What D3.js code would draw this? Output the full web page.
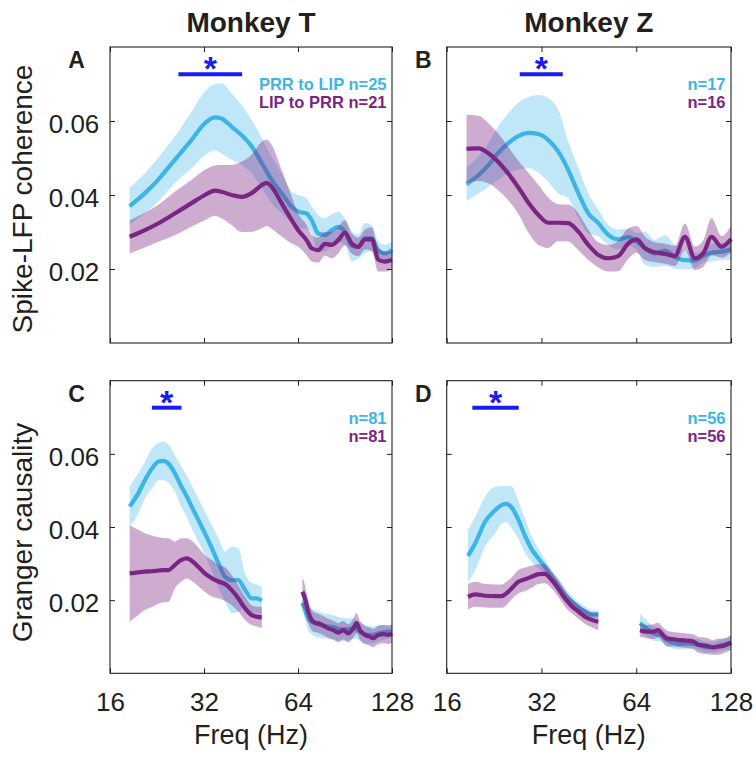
<!DOCTYPE html>
<html><head><meta charset="utf-8">
<script src="https://cdn.jsdelivr.net/npm/d3@7"></script>
<style>
body{margin:0;background:#ffffff}
svg{display:block}
text{font-family:"Liberation Sans",Arial,Helvetica,sans-serif;fill:#231f20}
</style>
</head><body>
<svg id="chart" width="756" height="759"></svg>
<script>
// ---------- DATA ----------
const monkeys = ["Monkey T", "Monkey Z"];
const rowLabels = ["Spike-LFP coherence", "Granger causality"];
const xLabel = "Freq (Hz)";
const freqTicks = [16, 32, 64, 128];
const valueTicks = [0.02, 0.04, 0.06];
const freqDomain = [16, 128];
const valueDomain = [0, 0.08];
const seriesNames = ["PRR to LIP", "LIP to PRR"];

// Panel A (Monkey T, coherence)
const freqA = [18.5,20.7,22.8,25.8,29.2,32.2,34.7,36.4,39.2,42.2,45.5,49.0,50.8,52.7,56.7,61.1,64.1,68.2,70.8,74.3,78.1,82.0,86.1,90.5,95.1,99.8,104.9,110.2,115.7,121.5,128];
const prrLipA = [0.0370,0.0405,0.0441,0.0495,0.0549,0.0594,0.0610,0.0607,0.0585,0.0562,0.0531,0.0486,0.0463,0.0441,0.0405,0.0368,0.0355,0.0350,0.0332,0.0296,0.0292,0.0305,0.0314,0.0301,0.0262,0.0260,0.0283,0.0283,0.0251,0.0242,0.0251];
const prrLipSemA = [0.0050,0.0054,0.0059,0.0063,0.0077,0.0086,0.0090,0.0095,0.0090,0.0081,0.0072,0.0068,0.0065,0.0063,0.0054,0.0041,0.0045,0.0041,0.0036,0.0050,0.0045,0.0043,0.0041,0.0036,0.0041,0.0032,0.0041,0.0036,0.0023,0.0023,0.0023];
const lipPrrA = [0.0287,0.0305,0.0323,0.0350,0.0378,0.0400,0.0412,0.0409,0.0400,0.0395,0.0405,0.0427,0.0433,0.0422,0.0378,0.0332,0.0305,0.0278,0.0256,0.0251,0.0268,0.0265,0.0278,0.0298,0.0269,0.0260,0.0280,0.0281,0.0225,0.0220,0.0224];
const lipPrrSemA = [0.0045,0.0047,0.0050,0.0059,0.0063,0.0068,0.0068,0.0072,0.0081,0.0095,0.0104,0.0117,0.0117,0.0113,0.0090,0.0063,0.0045,0.0041,0.0036,0.0034,0.0032,0.0036,0.0036,0.0034,0.0027,0.0025,0.0027,0.0032,0.0032,0.0027,0.0023];

// Panel B (Monkey Z, coherence)
const freqB = [18.5,20.2,21.7,23.3,25.1,27.0,29.1,31.3,33.6,36.2,38.9,41.9,45.1,48.5,52.2,56.1,60.4,64.2,68.2,73.4,79.0,84.9,91.4,98.3,104.5,111.0,119.5,128];
const prrLipB = [0.0429,0.0454,0.0481,0.0513,0.0540,0.0559,0.0568,0.0565,0.0549,0.0517,0.0468,0.0405,0.0350,0.0324,0.0292,0.0280,0.0286,0.0274,0.0256,0.0242,0.0250,0.0233,0.0224,0.0223,0.0235,0.0244,0.0247,0.0253];
const prrLipSemB = [0.0045,0.0050,0.0059,0.0072,0.0081,0.0090,0.0096,0.0105,0.0113,0.0113,0.0077,0.0068,0.0054,0.0036,0.0027,0.0027,0.0023,0.0023,0.0045,0.0036,0.0041,0.0032,0.0025,0.0020,0.0018,0.0024,0.0023,0.0027];
const lipPrrB = [0.0525,0.0526,0.0513,0.0490,0.0458,0.0421,0.0379,0.0346,0.0325,0.0325,0.0324,0.0301,0.0265,0.0238,0.0229,0.0235,0.0269,0.0280,0.0256,0.0245,0.0241,0.0235,0.0287,0.0229,0.0242,0.0287,0.0260,0.0281];
const lipPrrSemB = [0.0092,0.0088,0.0081,0.0077,0.0072,0.0072,0.0081,0.0081,0.0068,0.0050,0.0050,0.0050,0.0041,0.0034,0.0036,0.0041,0.0041,0.0036,0.0032,0.0027,0.0027,0.0027,0.0036,0.0032,0.0036,0.0050,0.0029,0.0036];

// Panel C (Monkey T, Granger) - low and high bands
const freqC1 = [18.5,19.7,20.7,21.8,22.9,23.7,24.6,25.8,27.1,28.2,29.2,30.7,32.2,33.9,35.6,37.4,39.2,41.2,43.3,45.5,47.2,49.0];
const prrLipC1 = [0.0456,0.0492,0.0528,0.0560,0.0579,0.0581,0.0574,0.0547,0.0510,0.0483,0.0456,0.0419,0.0383,0.0342,0.0301,0.0264,0.0255,0.0255,0.0228,0.0205,0.0205,0.0199];
const prrLipSemC1 = [0.0055,0.0055,0.0050,0.0055,0.0051,0.0053,0.0052,0.0050,0.0055,0.0057,0.0059,0.0059,0.0059,0.0064,0.0068,0.0068,0.0091,0.0087,0.0046,0.0041,0.0038,0.0038];
const lipPrrC1 = [0.0273,0.0276,0.0278,0.0279,0.0281,0.0282,0.0282,0.0296,0.0310,0.0314,0.0308,0.0291,0.0273,0.0260,0.0251,0.0244,0.0228,0.0205,0.0178,0.0159,0.0155,0.0153];
const lipPrrSemC1 = [0.0132,0.0117,0.0105,0.0098,0.0091,0.0088,0.0087,0.0064,0.0059,0.0055,0.0055,0.0053,0.0050,0.0050,0.0046,0.0046,0.0041,0.0036,0.0032,0.0027,0.0027,0.0029];
const freqC2 = [66.1,67.4,69.0,70.8,72.5,75.3,78.1,80.0,83.1,86.2,89.4,92.7,96.2,98.6,101.0,104.9,108.8,111.5,115.7,120.1,124.7,128];
const prrLipC2 = [0.0193,0.0173,0.0150,0.0141,0.0137,0.0132,0.0129,0.0128,0.0126,0.0122,0.0120,0.0120,0.0123,0.0120,0.0114,0.0107,0.0105,0.0105,0.0109,0.0112,0.0114,0.0114];
const prrLipSemC2 = [0.0018,0.0025,0.0032,0.0034,0.0036,0.0035,0.0034,0.0034,0.0033,0.0032,0.0032,0.0030,0.0028,0.0026,0.0026,0.0025,0.0024,0.0023,0.0022,0.0020,0.0018,0.0016];
const lipPrrC2 = [0.0223,0.0205,0.0169,0.0146,0.0139,0.0135,0.0128,0.0123,0.0118,0.0111,0.0118,0.0109,0.0123,0.0137,0.0118,0.0105,0.0100,0.0096,0.0105,0.0107,0.0105,0.0109];
const lipPrrSemC2 = [0.0040,0.0035,0.0030,0.0028,0.0027,0.0026,0.0026,0.0026,0.0026,0.0026,0.0025,0.0025,0.0026,0.0028,0.0026,0.0025,0.0025,0.0025,0.0025,0.0025,0.0025,0.0025];

// Panel D (Monkey Z, Granger)
const freqD1 = [18.7,19.7,21.2,22.8,23.9,24.8,25.7,27.0,28.4,29.8,31.3,32.8,34.5,36.2,38.0,39.9,41.9,44.0,46.2,48.5];
const prrLipD1 = [0.0321,0.0355,0.0415,0.0446,0.0460,0.0463,0.0454,0.0421,0.0375,0.0339,0.0314,0.0291,0.0264,0.0239,0.0214,0.0196,0.0180,0.0169,0.0161,0.0161];
const prrLipSemD1 = [0.0071,0.0073,0.0068,0.0064,0.0052,0.0049,0.0057,0.0053,0.0046,0.0035,0.0027,0.0021,0.0018,0.0020,0.0020,0.0016,0.0015,0.0014,0.0011,0.0011];
const lipPrrD1 = [0.0209,0.0216,0.0212,0.0211,0.0211,0.0219,0.0232,0.0250,0.0257,0.0264,0.0271,0.0272,0.0255,0.0232,0.0205,0.0184,0.0169,0.0155,0.0146,0.0141];
const lipPrrSemD1 = [0.0035,0.0034,0.0032,0.0032,0.0032,0.0032,0.0030,0.0032,0.0032,0.0030,0.0027,0.0026,0.0023,0.0023,0.0023,0.0020,0.0020,0.0020,0.0020,0.0023];
const freqD2 = [65.8,69.0,72.5,75.2,77.0,79.9,83.9,88.1,92.5,97.1,100.7,107.0,112.4,116.5,120.9,128];
const prrLipD2 = [0.0137,0.0123,0.0109,0.0106,0.0104,0.0091,0.0084,0.0080,0.0082,0.0080,0.0079,0.0071,0.0071,0.0074,0.0078,0.0084];
const prrLipSemD2 = [0.0025,0.0022,0.0020,0.0018,0.0018,0.0016,0.0016,0.0015,0.0015,0.0015,0.0015,0.0015,0.0015,0.0015,0.0016,0.0018];
const lipPrrD2 = [0.0118,0.0114,0.0114,0.0118,0.0109,0.0096,0.0093,0.0091,0.0089,0.0087,0.0078,0.0075,0.0071,0.0073,0.0075,0.0084];
const lipPrrSemD2 = [0.0018,0.0018,0.0020,0.0020,0.0020,0.0022,0.0020,0.0020,0.0020,0.0020,0.0022,0.0022,0.0020,0.0022,0.0020,0.0020];

// Significance ranges (Hz)
const sigA = [26.5, 42.4];
const sigB = [27.3, 37.4];
const sigC = [21.8, 27.1];
const sigD = [19.3, 27.1];

// Cell counts
const nPrrLip = [25, 17, 81, 56];
const nLipPrr = [21, 16, 81, 56];
const panelLetters = ["A", "B", "C", "D"];

// ---------- DRAW ----------
const svg = d3.select("#chart");
const CYAN = "#3cb5e6", PURPLE = "#7b2583", SIG = "#1a1af2", INK = "#231f20";

const cols = [{x0: 110, x1: 392, letterX: 68.3}, {x0: 446.7, x1: 731, letterX: 415}];
const rows = [{y0: 47, y1: 343}, {y0: 380.7, y1: 673.3}];

const panels = [
  {col: 0, row: 0, segs: [[freqA, prrLipA, prrLipSemA, lipPrrA, lipPrrSemA]], sig: sigA},
  {col: 1, row: 0, segs: [[freqB, prrLipB, prrLipSemB, lipPrrB, lipPrrSemB]], sig: sigB},
  {col: 0, row: 1, segs: [[freqC1, prrLipC1, prrLipSemC1, lipPrrC1, lipPrrSemC1],
                          [freqC2, prrLipC2, prrLipSemC2, lipPrrC2, lipPrrSemC2]], sig: sigC},
  {col: 1, row: 1, segs: [[freqD1, prrLipD1, prrLipSemD1, lipPrrD1, lipPrrSemD1],
                          [freqD2, prrLipD2, prrLipSemD2, lipPrrD2, lipPrrSemD2]], sig: sigD}
];

panels.forEach((p, pi) => {
  const c = cols[p.col], r = rows[p.row];
  const x = d3.scaleLog().base(2).domain(freqDomain).range([c.x0, c.x1]);
  const y = d3.scaleLinear().domain(valueDomain).range([r.y1, r.y0]);
  const g = svg.append("g");

  const series = [
    {color: CYAN, op: 0.33, mi: 1, si: 2},
    {color: PURPLE, op: 0.38, mi: 3, si: 4}
  ];
  series.forEach(s => {
    p.segs.forEach(seg => {
      const pts = seg[0].map((f, i) => ({f, m: seg[s.mi][i], s: seg[s.si][i]}));
      const area = d3.area().x(d => x(d.f)).y0(d => y(d.m - d.s)).y1(d => y(d.m + d.s)).curve(d3.curveMonotoneX);
      g.append("path").datum(pts).attr("d", area).attr("fill", s.color).attr("fill-opacity", s.op).attr("stroke", "none");
    });
    p.segs.forEach(seg => {
      const pts = seg[0].map((f, i) => ({f, m: seg[s.mi][i]}));
      const line = d3.line().x(d => x(d.f)).y(d => y(d.m)).curve(d3.curveMonotoneX);
      g.append("path").datum(pts).attr("d", line).attr("fill", "none")
        .attr("stroke", s.color).attr("stroke-width", 4.2).attr("stroke-linejoin", "round");
    });
  });

  // axes (inward ticks on all four sides)
  const left = d3.axisLeft(y).tickValues(valueTicks).tickSize(-5).tickSizeOuter(0).tickPadding(10.7)
    .tickFormat(p.col === 0 ? d3.format(".2f") : () => "");
  const right = d3.axisRight(y).tickValues(valueTicks).tickSize(-5).tickSizeOuter(0).tickFormat(() => "");
  const top = d3.axisTop(x).tickValues(freqTicks).tickSize(-5).tickSizeOuter(0).tickFormat(() => "");
  const bottom = d3.axisBottom(x).tickValues(freqTicks).tickSize(-5).tickSizeOuter(0).tickPadding(19)
    .tickFormat(p.row === 1 ? d => String(d) : () => "");
  const axG = [
    g.append("g").attr("transform", `translate(${c.x0},0)`).call(left),
    g.append("g").attr("transform", `translate(${c.x1},0)`).call(right),
    g.append("g").attr("transform", `translate(0,${r.y0})`).call(top),
    g.append("g").attr("transform", `translate(0,${r.y1})`).call(bottom)
  ];
  axG.forEach(a => {
    a.select(".domain").remove();
    a.selectAll(".tick line").attr("stroke", INK).attr("stroke-width", 1);
    a.selectAll(".tick text").attr("font-size", 26).attr("fill", INK)
      .attr("font-family", '"Liberation Sans",Arial,Helvetica,sans-serif');
  });
  axG[0].selectAll(".tick text").attr("dy", "0.45em");
  g.append("rect").attr("x", c.x0).attr("y", r.y0).attr("width", c.x1 - c.x0).attr("height", r.y1 - r.y0)
    .attr("fill", "none").attr("stroke", INK).attr("stroke-width", 1.1);

  // significance bar + asterisk
  const sy = r.y0 + (p.row === 0 ? 27.3 : 27);
  g.append("line").attr("x1", x(p.sig[0])).attr("x2", x(p.sig[1])).attr("y1", sy).attr("y2", sy)
    .attr("stroke", SIG).attr("stroke-width", 4);
  g.append("text").attr("x", (x(p.sig[0]) + x(p.sig[1])) / 2).attr("y", sy + 6)
    .attr("text-anchor", "middle").attr("font-size", 34).attr("font-weight", "bold")
    .style("fill", SIG).text("*");

  // legend / counts
  const lx = c.x1 - 5.5;
  const t1 = pi === 0 ? `${seriesNames[0]} n=${nPrrLip[pi]}` : `n=${nPrrLip[pi]}`;
  const t2 = pi === 0 ? `${seriesNames[1]} n=${nLipPrr[pi]}` : `n=${nLipPrr[pi]}`;
  g.append("text").attr("x", lx).attr("y", r.y0 + 43).attr("text-anchor", "end")
    .attr("font-size", 16.5).attr("font-weight", "bold").style("fill", CYAN).text(t1);
  g.append("text").attr("x", lx).attr("y", r.y0 + 61.3).attr("text-anchor", "end")
    .attr("font-size", 16.5).attr("font-weight", "bold").style("fill", PURPLE).text(t2);

  // panel letter
  g.append("text").attr("x", c.letterX).attr("y", r.y0 + 21.3)
    .attr("font-size", 23).attr("font-weight", "bold").text(panelLetters[pi]);
});

// column titles
cols.forEach((c, i) => {
  svg.append("text").attr("x", (c.x0 + c.x1) / 2).attr("y", 32).attr("text-anchor", "middle")
    .attr("font-size", 28).attr("font-weight", "bold").text(monkeys[i]);
  svg.append("text").attr("x", (c.x0 + c.x1) / 2).attr("y", 744).attr("text-anchor", "middle")
    .attr("font-size", 27).text(xLabel);
});
// row labels
rows.forEach((r, i) => {
  const cy = (r.y0 + r.y1) / 2 + (i === 0 ? 4 : 5.5);
  svg.append("text").attr("transform", `translate(32,${cy}) rotate(-90)`).attr("text-anchor", "middle")
    .attr("font-size", 28).text(rowLabels[i]);
});
</script>
</body></html>
